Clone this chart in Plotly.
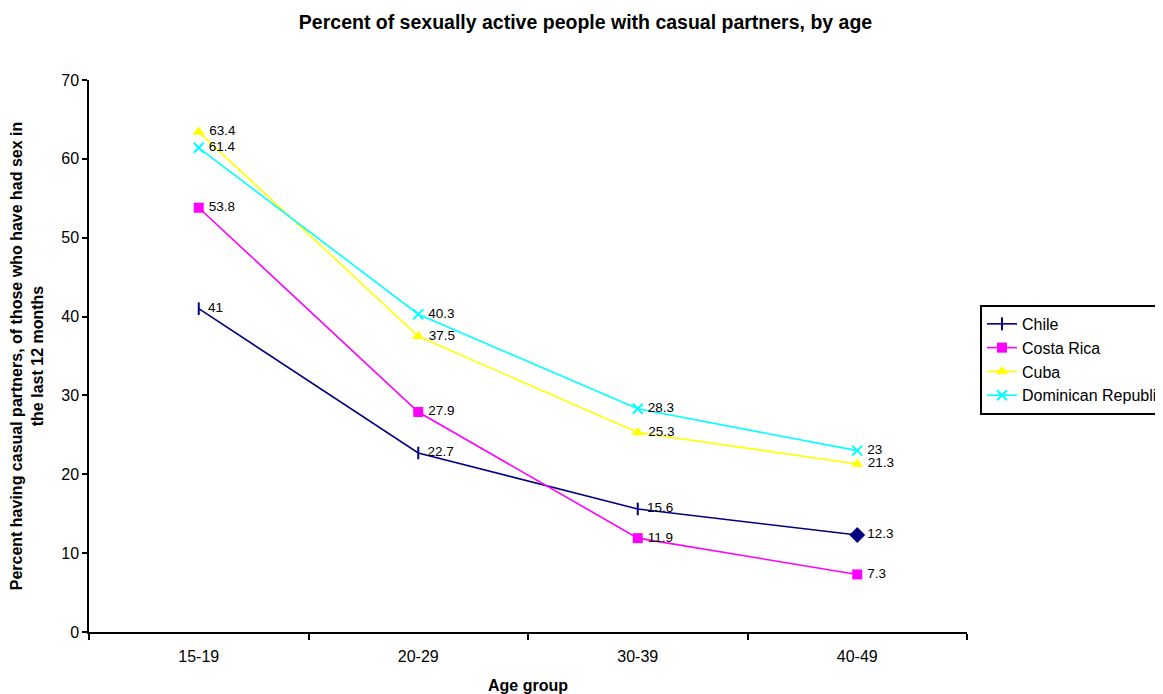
import plotly.graph_objects as go

categories = ["15-19", "20-29", "30-39", "40-49"]
chile = [41, 22.7, 15.6, 12.3]
costa_rica = [53.8, 27.9, 11.9, 7.3]
cuba = [63.4, 37.5, 25.3, 21.3]
dominican = [61.4, 40.3, 28.3, 23]
series_names = ["Chile", "Costa Rica", "Cuba", "Dominican Republic"]
y_ticks = [0, 10, 20, 30, 40, 50, 60, 70]

font = "Arial, Liberation Sans, sans-serif"
fig = go.Figure()

def add(name, vals, color, symbol, size, mline_w):
    fig.add_trace(go.Scatter(
        x=categories, y=vals, name=name, mode="lines+markers+text",
        text=["\u2009" + str(v) for v in vals], textposition="middle right",
        textfont=dict(family=font, size=13.5, color="black"),
        line=dict(color=color, width=1.6),
        marker=dict(symbol=symbol, size=size, color=color, opacity=1,
                    line=dict(color=color, width=mline_w)),
        cliponaxis=False,
    ))

add(series_names[0], chile, "#000080",
    ["line-ns-open", "line-ns-open", "line-ns-open", "diamond"], [9, 9, 9, 10], 2)
add(series_names[1], costa_rica, "#FF00FF", "square", 10, 0)
add(series_names[2], cuba, "#FFFF00", "triangle-up", 11, 0)
add(series_names[3], dominican, "#00FFFF", "x-thin-open", 10, 2)

fig.update_layout(
    width=1155, height=686,
    paper_bgcolor="white", plot_bgcolor="white",
    margin=dict(l=81, r=196, t=72, b=62, autoexpand=False),
    title=dict(text="<b>Percent of sexually active people with casual partners, by age</b>",
               x=0.5, xref="container", xanchor="center",
               y=1 - 14 / 686, yref="container", yanchor="middle",
               font=dict(family=font, size=19.5, color="black")),
    font=dict(family=font, color="black"),
    showlegend=True,
    legend=dict(x=1.0148, xanchor="left", y=0.5925, yanchor="top",
                bordercolor="black", borderwidth=2, bgcolor="white",
                font=dict(family=font, size=16, color="black"),
                itemwidth=30, tracegroupgap=0),
    xaxis=dict(type="category", range=[-0.5, 3.5], tickson="boundaries",
               ticks="outside", ticklen=6, tickwidth=1.5, tickcolor="black",
               showline=True, linecolor="black", linewidth=1.5,
               showgrid=False, zeroline=False, automargin=False,
               ticklabelstandoff=9,
               tickfont=dict(family=font, size=16, color="black"),
               title=dict(text="<b>Age group</b>", standoff=18,
                          font=dict(family=font, size=16, color="black"))),
    yaxis=dict(range=[0, 70], tickvals=y_ticks,
               ticks="outside", ticklen=5, tickwidth=1.5, tickcolor="black",
               showline=True, linecolor="black", linewidth=1.5,
               showgrid=False, zeroline=False, automargin=False,
               tickfont=dict(family=font, size=16, color="black"),
               title=dict(text="<b>Percent having casual partners, of those who have had sex in<br>the last 12 months</b>",
                          standoff=14,
                          font=dict(family=font, size=16, color="black"))),
)

fig.write_html("out.html")
